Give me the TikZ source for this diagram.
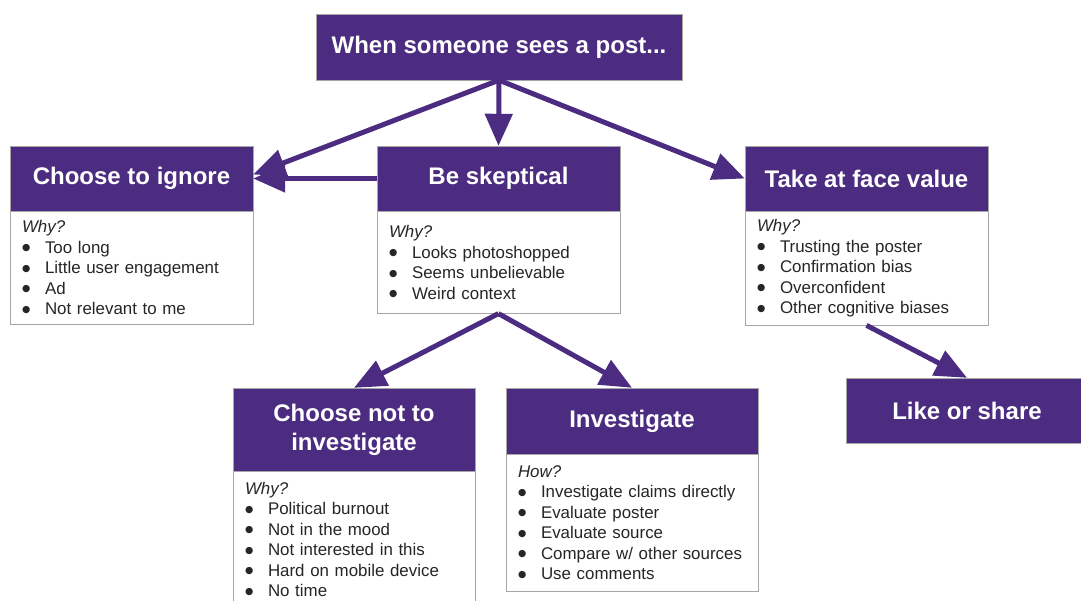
\documentclass[tikz,border=0pt]{standalone}
\usepackage{fontspec}
\setmainfont{Liberation Sans}
\newfontfamily\dotfont{DejaVu Sans}
\usetikzlibrary{positioning}
\usetikzlibrary{arrows.meta}
\definecolor{postpurple}{RGB}{75,44,128}
\newcommand{\bul}[1]{\makebox[23pt][l]{\raisebox{2.6pt}{\dotfont\fontsize{9.5}{0}\selectfont ●}}#1}
\newcommand{\headfont}{\fontsize{24}{29}\selectfont\bfseries}
\newcommand{\whyfont}{\fontsize{16.9}{20.5}\selectfont}

\begin{document}
\begin{tikzpicture}[x=1pt,y=-1pt,>={Triangle[length=32pt,width=27pt]},
				semithick]
				\tikzstyle{head}=[draw=gray!70,thin,fill=postpurple,text=white,font=\headfont,align=center,minimum width=243pt,minimum height=65pt,inner sep=0pt]
				\tikzstyle{why}=[draw=gray!70,thin,fill=white,text=black!85,font=\whyfont,align=left,text width=219pt,inner xsep=12pt,inner ysep=8pt]
				\tikzstyle{flow}=[draw=postpurple,line width=5pt,->]
				
				\fill[white] (0,0) rectangle (1081,601);
				\useasboundingbox (0,0) rectangle (1081,601);
				
				\node[head,minimum width=366pt,minimum height=66pt] (Post) at (499,47) {When someone sees a post...};
				
				\node[head]  (Ignore)    at (131.5,178.5) {Choose to ignore};
				\node[head]  (Skeptical) at (498.5,178.5) {Be skeptical};
				\node[head]  (FaceValue) at (866.5,178.5) {Take at face value};
				
				\node[why,minimum height=113pt] (IgnoreWhy) [below=0pt of Ignore]
				{\textit{Why?}\\\bul{Too long}\\\bul{Little user engagement}\\\bul{Ad}\\\bul{Not relevant to me}};
				\node[why,minimum height=102pt] (SkepticalWhy) [below=0pt of Skeptical]
				{\textit{Why?}\\\bul{Looks photoshopped}\\\bul{Seems unbelievable}\\\bul{Weird context}};
				\node[why,minimum height=113pt] (FaceValueWhy) [below=0pt of FaceValue]
				{\textit{Why?}\\\bul{Trusting the poster}\\\bul{Confirmation bias}\\\bul{Overconfident}\\\bul{Other cognitive biases}};
				
				\node[head,minimum width=242pt,minimum height=83pt] (NotInvestigate) at (354,429.5) {Choose not to\\investigate};
				\node[head,minimum width=252pt,minimum height=66pt] (Investigate)    at (632,421)   {Investigate};
				\node[head,minimum width=242pt] (LikeShare) at (967,410.5) {Like or share};
				
				\node[why,text width=218pt,minimum height=136pt] (NotInvestigateWhy) [below=0pt of NotInvestigate]
				{\textit{Why?}\\\bul{Political burnout}\\\bul{Not in the mood}\\\bul{Not interested in this}\\\bul{Hard on mobile device}\\\bul{No time}};
				\node[why,text width=228pt,minimum height=137pt] (InvestigateHow) [below=0pt of Investigate]
				{\textit{How?}\\\bul{Investigate claims directly}\\\bul{Evaluate poster}\\\bul{Evaluate source}\\\bul{Compare w/ other sources}\\\bul{Use comments}};
				
				\path (Post.south) edge[flow] (Skeptical.north)
				(Post.south) edge[flow] ([yshift=4pt]Ignore.east)
				(Skeptical.west) edge[flow] (Ignore.east)
				(Post.south) edge[flow] (FaceValue.west)
				(SkepticalWhy.south) edge[flow] (NotInvestigate.north)
				(SkepticalWhy.south) edge[flow] (Investigate.north)
				(FaceValueWhy.south) edge[flow] (LikeShare.north)
				;
\end{tikzpicture}
\end{document}
